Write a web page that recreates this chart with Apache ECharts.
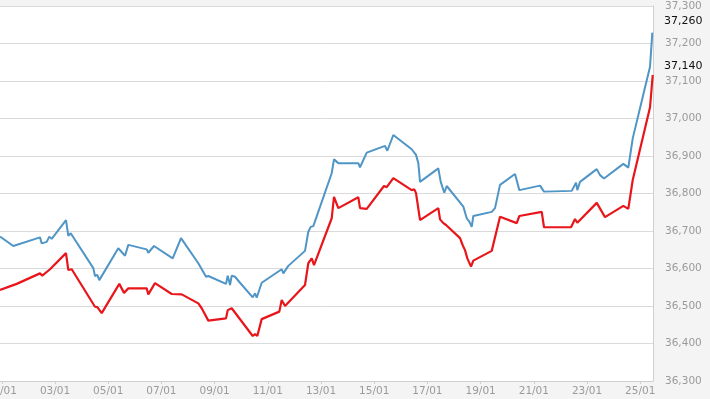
<!DOCTYPE html>
<html>
<head>
<meta charset="utf-8">
<script src="https://cdn.jsdelivr.net/npm/echarts@6/dist/echarts.min.js"></script>
<style>
html,body{margin:0;padding:0;background:#f4f4f4;}
#c{width:710px;height:399px;}
</style>
</head>
<body>
<div id="c"></div>
<script>
// x values are day-of-month (fractional), values are price
const tickDays = [1,3,5,7,9,11,13,15,17,19,21,23,25];
const lastLabels = [37140, 37260];

const blueDays = [0.932,1.432,2.436,2.500,2.688,2.785,2.876,3.413,3.500,3.590,4.440,4.503,4.590,4.665,5.379,5.631,5.755,6.447,6.507,6.721,7.425,7.737,8.387,8.677,8.763,9.428,9.492,9.579,9.643,9.767,9.955,10.432,10.519,10.582,10.770,11.522,11.583,11.770,12.398,12.522,12.612,12.710,13.402,13.488,13.650,14.402,14.466,14.718,15.406,15.492,15.718,16.409,16.571,16.658,16.722,17.410,17.500,17.635,17.725,18.350,18.413,18.477,18.575,18.665,18.725,19.417,19.541,19.729,20.293,20.455,21.233,21.383,22.424,22.586,22.635,22.737,23.365,23.488,23.639,24.364,24.552,24.718,25.368,25.455];
const blueValues = [36685,36660,36683,36667,36671,36685,36679,36729,36687,36694,36601,36580,36583,36569,36654,36634,36663,36651,36642,36660,36627,36681,36614,36578,36580,36559,36581,36556,36581,36578,36562,36523,36534,36522,36562,36598,36587,36607,36647,36698,36711,36713,36854,36891,36881,36881,36870,36909,36927,36914,36956,36918,36903,36881,36831,36867,36831,36802,36820,36765,36767,36734,36725,36711,36740,36751,36761,36823,36852,36809,36821,36805,36807,36829,36809,36831,36865,36849,36840,36879,36869,36947,37138,37229];

const redDays = [0.932,1.560,2.436,2.522,2.812,3.413,3.500,3.628,4.503,4.590,4.755,5.417,5.594,5.755,6.447,6.507,6.759,7.387,7.763,8.387,8.515,8.575,8.763,9.428,9.492,9.643,10.432,10.519,10.605,10.770,11.432,11.522,11.583,11.647,12.398,12.522,12.650,12.737,13.402,13.488,13.650,14.402,14.466,14.718,15.368,15.470,15.718,16.409,16.508,16.571,16.722,17.410,17.474,17.598,17.699,18.226,18.338,18.413,18.500,18.639,18.725,19.417,19.729,20.357,20.455,21.297,21.383,22.398,22.549,22.635,23.365,23.676,24.364,24.552,24.718,25.368,25.470];
const redValues = [36543,36559,36587,36581,36598,36641,36596,36598,36498,36497,36481,36559,36535,36547,36547,36531,36561,36532,36531,36507,36494,36494,36461,36467,36489,36494,36420,36425,36420,36465,36485,36516,36511,36500,36556,36614,36627,36609,36734,36791,36761,36790,36761,36759,36820,36817,36841,36809,36811,36801,36729,36761,36731,36721,36716,36681,36660,36649,36627,36605,36621,36647,36738,36721,36740,36751,36710,36710,36732,36722,36775,36737,36767,36759,36836,37030,37116];

const zip = (a, b) => a.map((x, i) => [x, b[i]]);
const fmtNum = v => String(v).replace(/\B(?=(\d{3})+(?!\d))/g, ',');
const pad = d => (d < 10 ? '0' : '') + d;

const chart = echarts.init(document.getElementById('c'), null, {renderer: 'canvas'});
chart.setOption({
  backgroundColor: '#f4f4f4',
  animation: false,
  grid: {left: 0, right: 57, top: 6, bottom: 18, show: true, backgroundColor: '#ffffff', borderWidth: 0,
         containLabel: false, outerBoundsMode: 'none'},
  xAxis: {
    type: 'value', min: 0.932, max: 25.48,
    axisLine: {show: true, lineStyle: {color: '#cfcfcf', width: 1}},
    axisTick: {show: true, customValues: tickDays, length: 3, lineStyle: {color: '#cfcfcf'}},
    splitLine: {show: false},
    axisLabel: {
      customValues: tickDays, color: '#9a9a9a', fontSize: 10.5, fontFamily: 'DejaVu Sans',
      margin: 5, hideOverlap: false, formatter: v => pad(Math.round(v)) + '/01'
    }
  },
  yAxis: [{
    type: 'value', position: 'right', min: 36300, max: 37300, interval: 100,
    axisLine: {show: true, lineStyle: {color: '#cfcfcf', width: 1}},
    axisTick: {show: false},
    splitLine: {show: true, lineStyle: {color: '#dadada', width: 1}},
    axisLabel: {color: '#9a9a9a', fontSize: 10.5, fontFamily: 'DejaVu Sans', margin: 12, formatter: v => fmtNum(v)}
  }, {
    type: 'value', position: 'right', min: 36300, max: 37300,
    axisLine: {show: false}, axisTick: {show: false}, splitLine: {show: false},
    axisLabel: {customValues: lastLabels, color: '#111111', fontSize: 11, fontFamily: 'DejaVu Sans', margin: 11, formatter: v => fmtNum(v)}
  }],
  series: [{
    type: 'line', data: zip(blueDays, blueValues), showSymbol: false, symbol: 'none',
    lineStyle: {color: '#4f95c6', width: 2}, z: 3
  }, {
    type: 'line', data: zip(redDays, redValues), showSymbol: false, symbol: 'none',
    lineStyle: {color: '#e8161b', width: 2.2}, z: 4
  }]
});
</script>
</body>
</html>
